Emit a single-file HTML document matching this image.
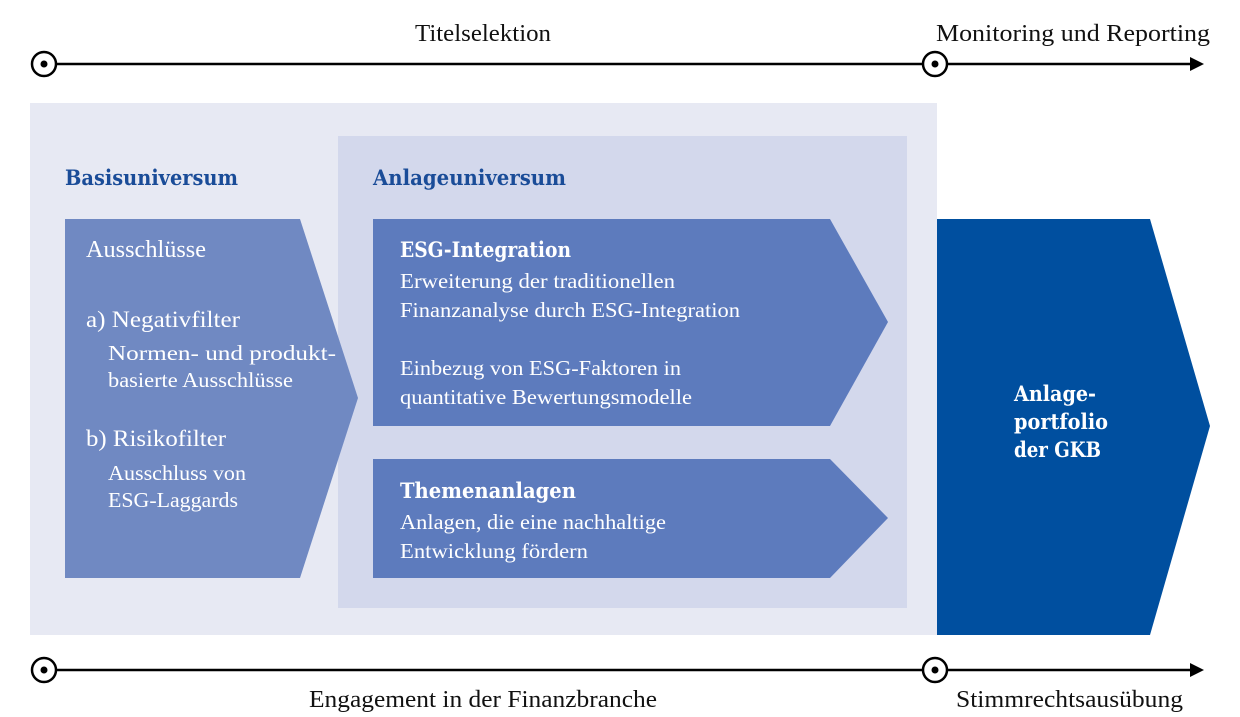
<!DOCTYPE html>
<html><head><meta charset="utf-8"><style>
html,body{margin:0;padding:0;background:#fff;}
svg{display:block;}
text{font-family:"Liberation Serif",serif;}
.b{font-weight:bold;font-family:"DejaVu Serif","Liberation Serif",serif;}
</style></head><body>
<svg width="1240" height="717" viewBox="0 0 1240 717" xmlns="http://www.w3.org/2000/svg">
<rect x="30" y="103" width="907" height="532" fill="#e7e9f3"/>
<rect x="338" y="136" width="569" height="472" fill="#d3d8ec"/>
<polygon points="65,219 300,219 358,398 300,578 65,578" fill="#7089c2"/>
<polygon points="373,219 830,219 888,322 830,426 373,426" fill="#5d7bbd"/>
<polygon points="373,459 830,459 888,518 830,578 373,578" fill="#5d7bbd"/>
<polygon points="937,219 1150,219 1210,426 1150,635 937,635" fill="#004f9f"/>
<line x1="44" y1="64" x2="1192" y2="64" stroke="#000" stroke-width="2.5"/>
<polygon points="1190,57 1204,64 1190,71" fill="#000"/>
<circle cx="44" cy="64" r="12" fill="#fff" stroke="#000" stroke-width="2.5"/>
<circle cx="44" cy="64" r="3.5" fill="#000"/>
<circle cx="935" cy="64" r="12" fill="#fff" stroke="#000" stroke-width="2.5"/>
<circle cx="935" cy="64" r="3.5" fill="#000"/>
<line x1="44" y1="670" x2="1192" y2="670" stroke="#000" stroke-width="2.5"/>
<polygon points="1190,663 1204,670 1190,677" fill="#000"/>
<circle cx="44" cy="670" r="12" fill="#fff" stroke="#000" stroke-width="2.5"/>
<circle cx="44" cy="670" r="3.5" fill="#000"/>
<circle cx="935" cy="670" r="12" fill="#fff" stroke="#000" stroke-width="2.5"/>
<circle cx="935" cy="670" r="3.5" fill="#000"/>

<g font-size="24" fill="#111" lengthAdjust="spacingAndGlyphs">
<text x="415" y="41" textLength="136" lengthAdjust="spacingAndGlyphs">Titelselektion</text>
<text x="936" y="41" textLength="274" lengthAdjust="spacingAndGlyphs">Monitoring und Reporting</text>
<text x="309" y="707" textLength="348" lengthAdjust="spacingAndGlyphs">Engagement in der Finanzbranche</text>
<text x="956" y="707" textLength="227" lengthAdjust="spacingAndGlyphs">Stimmrechtsausübung</text>
</g>
<g font-size="21" fill="#1a4c98">
<text class="b" x="65" y="185" textLength="173" lengthAdjust="spacingAndGlyphs">Basisuniversum</text>
<text class="b" x="373" y="185" textLength="193" lengthAdjust="spacingAndGlyphs">Anlageuniversum</text>
</g>
<g fill="#fff">
<text x="86" y="257" font-size="24" textLength="120" lengthAdjust="spacingAndGlyphs">Ausschlüsse</text>
<text x="86" y="327" font-size="23" textLength="154" lengthAdjust="spacingAndGlyphs">a) Negativfilter</text>
<text x="108" y="360" font-size="21" textLength="228" lengthAdjust="spacingAndGlyphs">Normen- und produkt-</text>
<text x="108" y="387" font-size="21" textLength="185" lengthAdjust="spacingAndGlyphs">basierte Ausschlüsse</text>
<text x="86" y="446" font-size="23" textLength="140" lengthAdjust="spacingAndGlyphs">b) Risikofilter</text>
<text x="108" y="480" font-size="21" textLength="138" lengthAdjust="spacingAndGlyphs">Ausschluss von</text>
<text x="108" y="507" font-size="21" textLength="130" lengthAdjust="spacingAndGlyphs">ESG-Laggards</text>
<text class="b" x="400" y="257" font-size="21" textLength="171" lengthAdjust="spacingAndGlyphs">ESG-Integration</text>
<text x="400" y="288" font-size="21" textLength="275" lengthAdjust="spacingAndGlyphs">Erweiterung der traditionellen</text>
<text x="400" y="317" font-size="21" textLength="340" lengthAdjust="spacingAndGlyphs">Finanzanalyse durch ESG-Integration</text>
<text x="400" y="375" font-size="21" textLength="281" lengthAdjust="spacingAndGlyphs">Einbezug von ESG-Faktoren in</text>
<text x="400" y="404" font-size="21" textLength="292" lengthAdjust="spacingAndGlyphs">quantitative Bewertungsmodelle</text>
<text class="b" x="400" y="498" font-size="21" textLength="176" lengthAdjust="spacingAndGlyphs">Themenanlagen</text>
<text x="400" y="529" font-size="21" textLength="266" lengthAdjust="spacingAndGlyphs">Anlagen, die eine nachhaltige</text>
<text x="400" y="558" font-size="21" textLength="188" lengthAdjust="spacingAndGlyphs">Entwicklung fördern</text>
<text class="b" x="1014" y="401" font-size="21" textLength="82" lengthAdjust="spacingAndGlyphs">Anlage-</text>
<text class="b" x="1014" y="429" font-size="21" textLength="94" lengthAdjust="spacingAndGlyphs">portfolio</text>
<text class="b" x="1014" y="457" font-size="21" textLength="87" lengthAdjust="spacingAndGlyphs">der GKB</text>
</g>
</svg>
</body></html>
